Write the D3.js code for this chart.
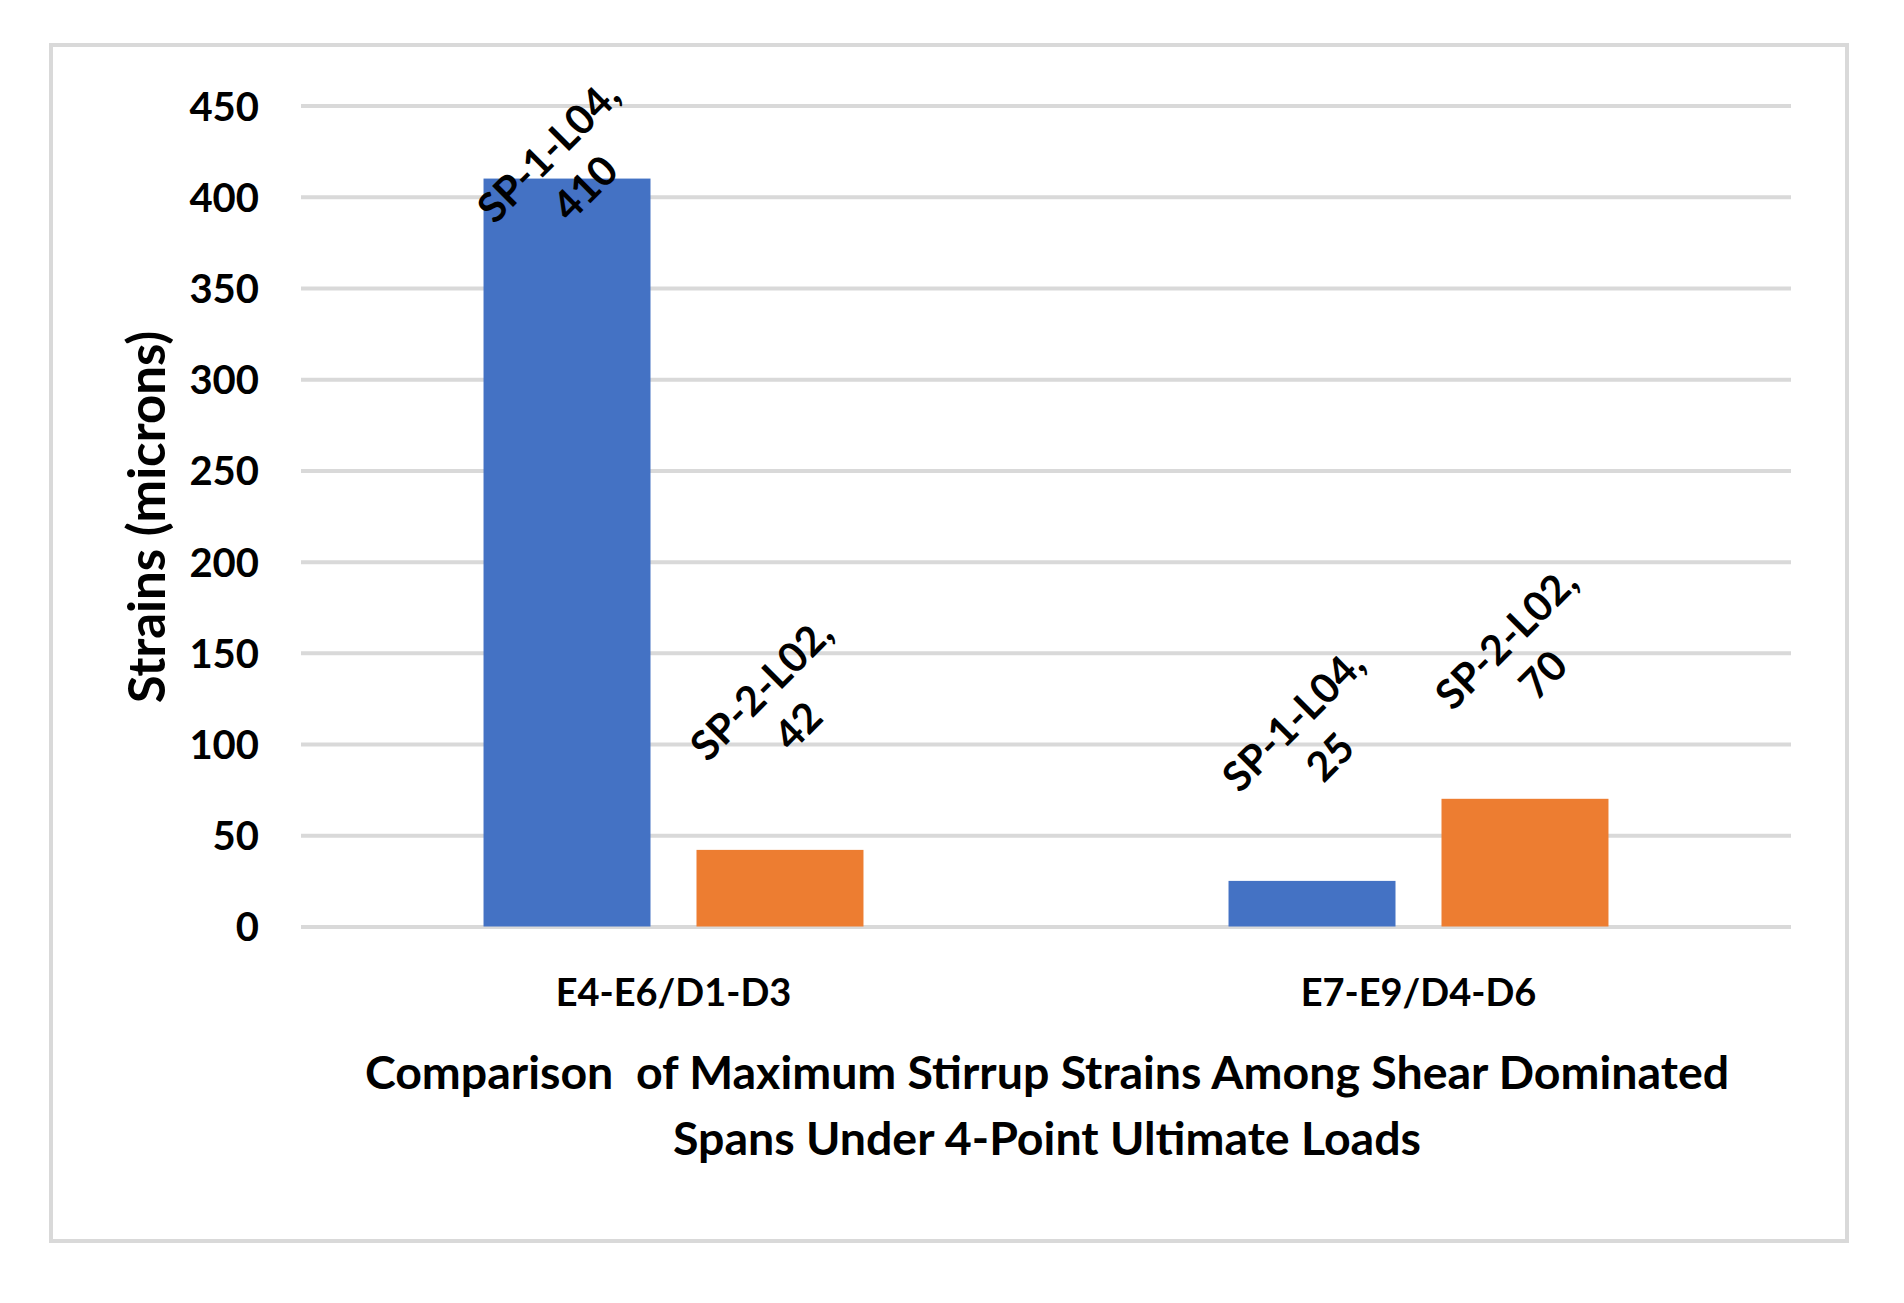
<!DOCTYPE html>
<html>
<head>
<meta charset="utf-8">
<script src="https://cdn.jsdelivr.net/npm/d3@7"></script>
<style>
  html, body { margin: 0; padding: 0; background: #fff; }
  svg { display: block; }
  text { font-family: Lato, "Open Sans", sans-serif; font-weight: 700; fill: #000; }
</style>
</head>
<body>
<svg id="chart" width="1904" height="1303"></svg>
<script>
const categories = ["E4-E6/D1-D3", "E7-E9/D4-D6"];
const seriesNames = ["SP-1-L04", "SP-2-L02"];
const sp1Values = [410, 25];
const sp2Values = [42, 70];
const yTicks = [0, 50, 100, 150, 200, 250, 300, 350, 400, 450];
const yTitle = "Strains (microns)";
const xTitleLines = ["Comparison  of Maximum Stirrup Strains Among Shear Dominated", "Spans Under 4-Point Ultimate Loads"];
const colors = ["#4472C4", "#ED7D31"];

const svg = d3.select("#chart");
const W = 1904, H = 1303;
svg.append("rect").attr("width", W).attr("height", H).attr("fill", "#fff");
// outer frame
svg.append("rect").attr("x", 51).attr("y", 45).attr("width", 1796).attr("height", 1196)
  .attr("fill", "none").attr("stroke", "#d9d9d9").attr("stroke-width", 4);

const plot = { left: 301, right: 1791, top: 105.6, bottom: 926.5 };
const y = d3.scaleLinear().domain([0, 450]).range([plot.bottom, plot.top]);
const x0 = d3.scaleBand().domain(categories).range([plot.left, plot.right]).paddingInner(0).paddingOuter(0);
const x1 = d3.scaleBand().domain(seriesNames).range([0, x0.bandwidth()]).paddingInner(0.216).paddingOuter(0.857);

// gridlines
const yAxis = d3.axisLeft(y).tickValues(yTicks).tickSize(-(plot.right - plot.left)).tickFormat(d3.format("d")).tickPadding(42);
const ga = svg.append("g").attr("transform", `translate(${plot.left},0)`).call(yAxis);
ga.select(".domain").remove();
ga.selectAll(".tick line").attr("stroke", "#d9d9d9").attr("stroke-width", 4);
ga.selectAll(".tick text").style("font-size", "40px").style("font-family", "Lato, sans-serif").style("font-weight", 700).attr("fill", "#000").attr("dy", "0.36em");

const data = categories.map((c, i) => ({ cat: c, vals: [
  { s: seriesNames[0], v: sp1Values[i], c: colors[0] },
  { s: seriesNames[1], v: sp2Values[i], c: colors[1] }
]}));

const groups = svg.append("g").selectAll("g").data(data).join("g")
  .attr("transform", d => `translate(${x0(d.cat)},0)`);
groups.selectAll("rect").data(d => d.vals).join("rect")
  .attr("x", d => x1(d.s)).attr("width", x1.bandwidth())
  .attr("y", d => y(d.v)).attr("height", d => y(0) - y(d.v))
  .attr("fill", d => d.c);

// data labels rotated -45
groups.selectAll("g.lbl").data(d => d.vals).join("g").attr("class", "lbl")
  .attr("transform", d => {
    const cx = x1(d.s) + x1.bandwidth() / 2;
    const cy = Math.max(y(d.v) - 142, 170);
    return `translate(${cx},${cy}) rotate(-45)`;
  })
  .each(function(d) {
    const t = d3.select(this).append("text").attr("text-anchor", "middle").style("font-size", "41px");
    t.append("tspan").attr("x", 0).attr("y", -12).text(d.s + ",");
    t.append("tspan").attr("x", 0).attr("y", 40).text(d.v);
  });

// category labels
svg.append("g").selectAll("text").data(categories).join("text")
  .attr("x", d => x0(d) + x0.bandwidth() / 2).attr("y", 1006)
  .attr("text-anchor", "middle").style("font-size", "38px").text(d => d);

// x title
svg.append("g").selectAll("text").data(xTitleLines).join("text")
  .attr("x", 1047).attr("y", (d, i) => 1089 + i * 66)
  .attr("text-anchor", "middle").style("font-size", "46.5px").style("white-space", "pre")
  .attr("xml:space", "preserve").text(d => d);

// y title
svg.append("text").attr("transform", `translate(165,517) rotate(-90)`)
  .attr("text-anchor", "middle").style("font-size", "51px").text(yTitle);
</script>
</body>
</html>
